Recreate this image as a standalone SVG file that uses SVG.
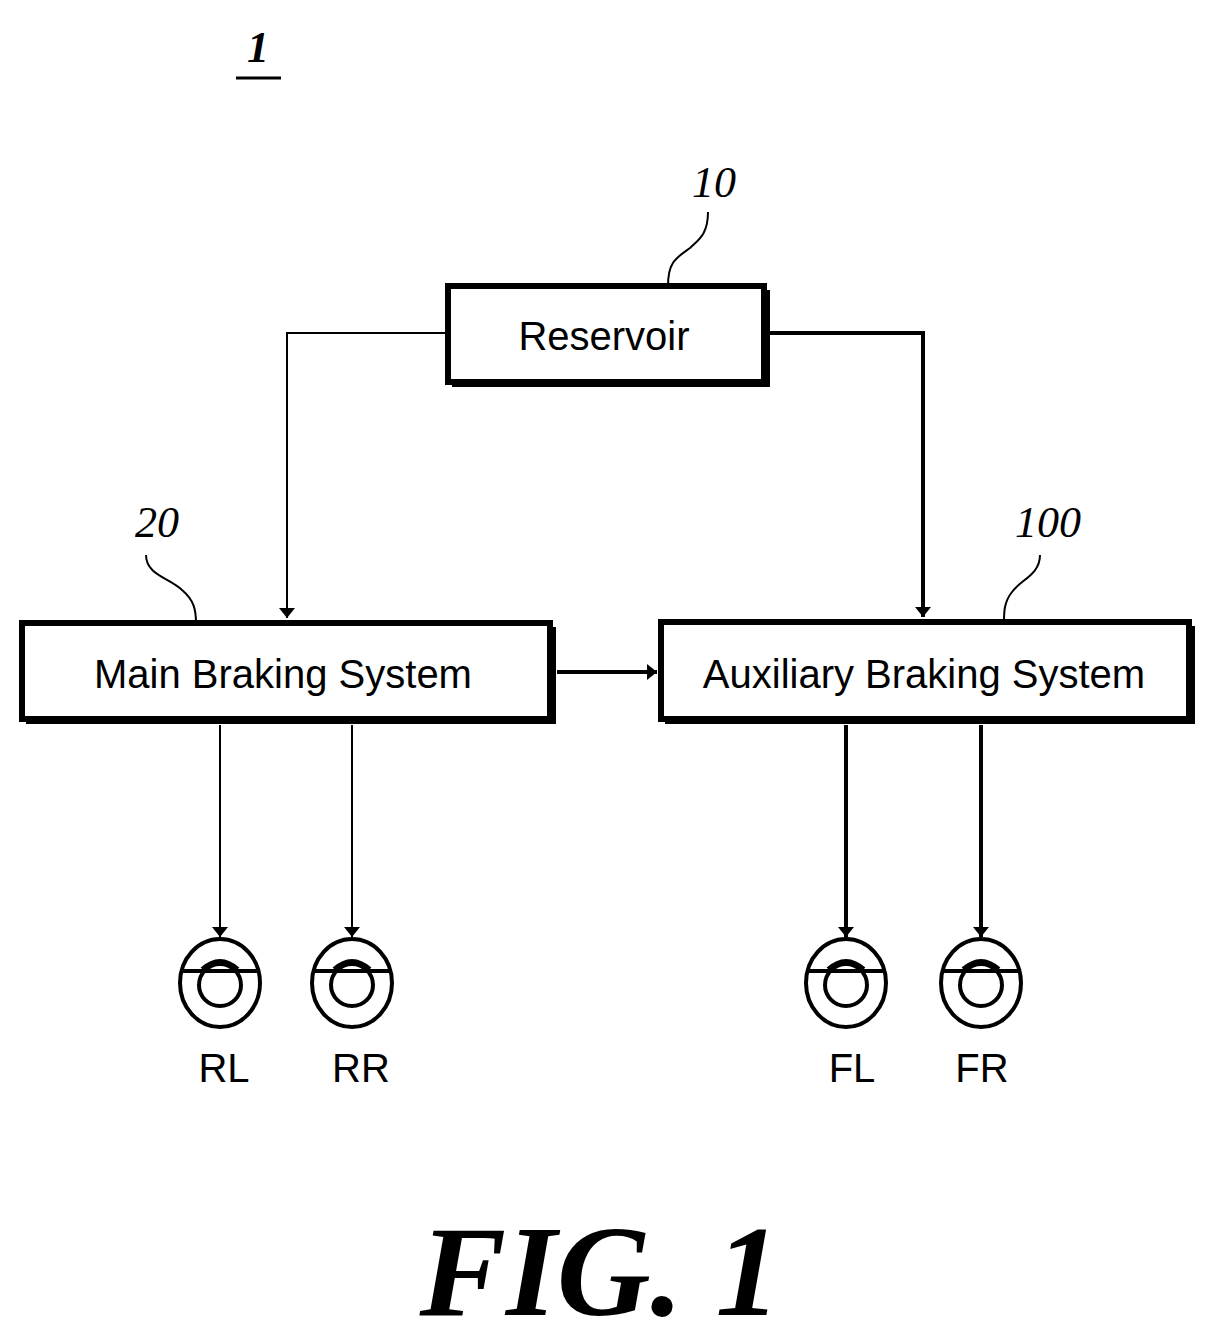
<svg xmlns="http://www.w3.org/2000/svg" width="1215" height="1341" viewBox="0 0 1215 1341">
<defs>
<style>
.box{fill:#fff;stroke:#000;stroke-width:6}
.sh{fill:#000}
.t{font-family:"Liberation Sans",Arial,sans-serif;font-size:40px;text-anchor:middle}
.ref{font-family:"Liberation Serif","Times New Roman",serif;font-style:italic;font-size:44px;text-anchor:middle}
.ln{fill:none;stroke:#000;stroke-width:2}
.lnb{fill:none;stroke:#000;stroke-width:4}
.lead{fill:none;stroke:#000;stroke-width:2}
.w{fill:none;stroke:#000;stroke-width:4}
</style>
<marker id="ah" viewBox="0 0 10 20" refX="10" refY="10" markerWidth="10" markerHeight="20" markerUnits="userSpaceOnUse" orient="auto"><path d="M0,2 L10,10 L0,18 Z"/></marker>
<symbol id="wheel" viewBox="-45 -48 90 96" overflow="visible">
<ellipse cx="0" cy="0" rx="40" ry="44" class="w"/>
<line x1="-40" y1="-12" x2="40" y2="-12" class="w"/>
<path d="M-18,-14 Q0,-30 18,-14" class="w"/>
<circle cx="0" cy="2" r="21" class="w"/>
</symbol>
</defs>
<text x="258" y="62" class="ref" font-weight="bold">1</text>
<line x1="236" y1="78" x2="281" y2="78" stroke="#000" stroke-width="3"/>
<g id="connectors">
<path d="M447,333 H287 V618" class="ln" marker-end="url(#ah)"/>
<path d="M767,333 H923 V617" class="lnb" marker-end="url(#ah)"/>
<path d="M557,672 H657" class="lnb" marker-end="url(#ah)"/>
<path d="M220,725 V937" class="ln" marker-end="url(#ah)"/>
<path d="M352,725 V937" class="ln" marker-end="url(#ah)"/>
<path d="M846,725 V937" class="lnb" marker-end="url(#ah)"/>
<path d="M981,725 V937" class="lnb" marker-end="url(#ah)"/>
</g>
<g id="n10">
<rect x="452" y="290" width="318" height="97" class="sh"/>
<rect x="448" y="286" width="316" height="96" class="box"/>
<text x="604" y="350" class="t">Reservoir</text>
<text x="714" y="197" class="ref">10</text>
<path d="M708,212 C708,235 698,240 690,248 C676,258 668,262 668,286" class="lead"/>
</g>
<g id="n20">
<rect x="26" y="627" width="530" height="97" class="sh"/>
<rect x="22" y="623" width="528" height="96" class="box"/>
<text x="283" y="688" class="t">Main Braking System</text>
<text x="157" y="537" class="ref">20</text>
<path d="M146,555 C146,575 170,578 182,590 C194,600 196,610 196,623" class="lead"/>
</g>
<g id="n100">
<rect x="665" y="626" width="530" height="98" class="sh"/>
<rect x="661" y="622" width="528" height="97" class="box"/>
<text x="924" y="688" class="t">Auxiliary Braking System</text>
<text x="1048" y="537" class="ref">100</text>
<path d="M1040,555 C1040,575 1020,580 1012,592 C1004,602 1004,612 1004,622" class="lead"/>
</g>
<g id="RL"><use href="#wheel" x="175" y="935" width="90" height="96"/><text x="224" y="1082" class="t">RL</text></g>
<g id="RR"><use href="#wheel" x="307" y="935" width="90" height="96"/><text x="361" y="1082" class="t">RR</text></g>
<g id="FL"><use href="#wheel" x="801" y="935" width="90" height="96"/><text x="852" y="1082" class="t">FL</text></g>
<g id="FR"><use href="#wheel" x="936" y="935" width="90" height="96"/><text x="982" y="1082" class="t">FR</text></g>
<text x="600" y="1315" font-family="Liberation Serif,'Times New Roman',serif" font-style="italic" font-weight="bold" font-size="130" text-anchor="middle">FIG. 1</text>
</svg>
